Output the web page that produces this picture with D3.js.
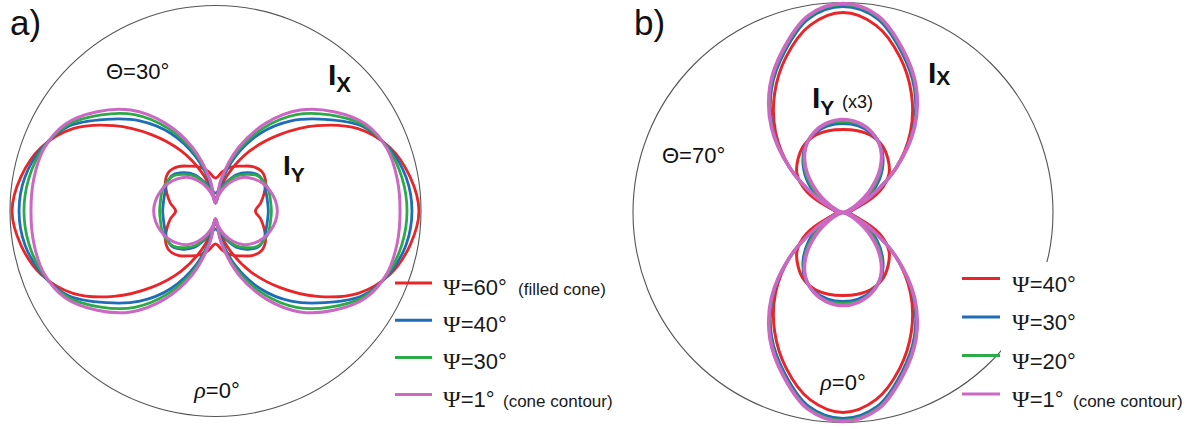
<!DOCTYPE html>
<html><head><meta charset="utf-8">
<script src="https://cdn.jsdelivr.net/npm/d3@7"></script>
<style>html,body{margin:0;padding:0;background:#fff;} svg{display:block;font-family:"Liberation Sans",Arial,sans-serif;}</style>
</head><body><svg id="chart" width="1202" height="429"></svg>
<script>
// Polar angle samples (degrees from the horizontal axis), first quadrant; curves are mirror-symmetric
const angles = [0, 10, 20, 30, 40, 50, 60, 70, 80, 90];

// Panel a) Θ=30°, radius normalised to the outer circle
const labelsA = ["Ψ=60°", "Ψ=40°", "Ψ=30°", "Ψ=1°"];
const notesA  = ["(filled cone)", "", "", "(cone contour)"];
const ixA_psi60 = [0.990, 0.961, 0.903, 0.801, 0.646, 0.485, 0.340, 0.204, 0.097, 0.039];
const ixA_psi40 = [0.956, 0.942, 0.898, 0.825, 0.694, 0.573, 0.437, 0.282, 0.131, 0.039];
const ixA_psi30 = [0.932, 0.922, 0.893, 0.835, 0.728, 0.612, 0.466, 0.306, 0.146, 0.039];
const ixA_psi1  = [0.898, 0.898, 0.888, 0.845, 0.752, 0.641, 0.495, 0.330, 0.155, 0.039];
const iyA_psi60 = [0.194, 0.223, 0.252, 0.282, 0.296, 0.282, 0.252, 0.228, 0.194, 0.160];
const iyA_psi40 = [0.257, 0.257, 0.262, 0.272, 0.272, 0.243, 0.204, 0.146, 0.107, 0.087];
const iyA_psi30 = [0.272, 0.272, 0.277, 0.277, 0.267, 0.233, 0.194, 0.136, 0.087, 0.063];
const iyA_psi1  = [0.301, 0.296, 0.284, 0.267, 0.243, 0.214, 0.170, 0.121, 0.073, 0.039];

// Panel b) Θ=70°, I_Y shown x3
const labelsB = ["Ψ=40°", "Ψ=30°", "Ψ=20°", "Ψ=1°"];
const notesB  = ["", "", "", "(cone contour)"];
const ixB_psi40 = [0.030, 0.040, 0.070, 0.160, 0.330, 0.500, 0.652, 0.790, 0.905, 0.952];
const ixB_psi30 = [0.020, 0.030, 0.055, 0.150, 0.330, 0.520, 0.681, 0.814, 0.938, 0.981];
const ixB_psi20 = [0.020, 0.030, 0.050, 0.150, 0.330, 0.525, 0.690, 0.824, 0.948, 0.990];
const ixB_psi1  = [0.020, 0.030, 0.050, 0.150, 0.330, 0.530, 0.695, 0.829, 0.952, 0.995];
const iyB_psi40 = [0.000, 0.014, 0.076, 0.200, 0.286, 0.333, 0.371, 0.390, 0.395, 0.395];
const iyB_psi30 = [0.000, 0.010, 0.048, 0.124, 0.214, 0.295, 0.362, 0.400, 0.419, 0.424];
const iyB_psi20 = [0.000, 0.005, 0.033, 0.100, 0.195, 0.286, 0.357, 0.405, 0.429, 0.433];
const iyB_psi1  = [0.000, 0.005, 0.024, 0.076, 0.171, 0.276, 0.357, 0.405, 0.433, 0.443];

const colors = ["#e8262a", "#1f6cb8", "#2daa48", "#cc68c4"];

const svg = d3.select("#chart");

// Build a full closed curve from the first-quadrant samples using the plot's mirror symmetry
function fullCurve(q) {
  const pts = [];
  const step = angles[1] - angles[0];
  for (let phi = 0; phi < 360; phi += step) {
    let a;
    if (phi <= 90) a = phi; else if (phi <= 180) a = 180 - phi;
    else if (phi <= 270) a = phi - 180; else a = 360 - phi;
    pts.push({ phi: phi, r: q[angles.indexOf(a)] });
  }
  return pts;
}

function panel(cfg) {
  const g = svg.append("g").attr("transform", `translate(${cfg.cx},${cfg.cy})`);
  const rs = d3.scaleLinear().domain([0, 1]).range([0, cfg.R]);
  g.append("circle").attr("r", rs(1)).attr("fill", "none").attr("stroke", "#555").attr("stroke-width", 1.1);
  const line = d3.lineRadial()
    .angle(d => (90 - d.phi) * Math.PI / 180)
    .radius(d => rs(d.r))
    .curve(d3.curveCatmullRomClosed.alpha(0.5));
  cfg.series.forEach((s, i) => {
    [s.ix, s.iy].forEach(arr => {
      g.append("path").attr("d", line(fullCurve(arr)))
        .attr("fill", "none").attr("stroke", colors[i])
        .attr("stroke-width", cfg.sw[i]).attr("stroke-linejoin", "round");
    });
  });
}

panel({ cx: 215.5, cy: 211, R: 205.5, sw: [2.8, 2.8, 2.8, 3],
  series: [
    { ix: ixA_psi60, iy: iyA_psi60 }, { ix: ixA_psi40, iy: iyA_psi40 },
    { ix: ixA_psi30, iy: iyA_psi30 }, { ix: ixA_psi1, iy: iyA_psi1 } ] });

panel({ cx: 843, cy: 212.5, R: 210, sw: [3, 3, 3, 3.6],
  series: [
    { ix: ixB_psi40, iy: iyB_psi40 }, { ix: ixB_psi30, iy: iyB_psi30 },
    { ix: ixB_psi20, iy: iyB_psi20 }, { ix: ixB_psi1, iy: iyB_psi1 } ] });

// white legend backdrop in panel b hides part of the circle
svg.append("rect").attr("x", 1001).attr("y", 262).attr("width", 201).attr("height", 167).attr("fill", "#fff");

function legend(labels, notes, x0, x1, y0, dy, tx, noteX, off) {
  labels.forEach((lab, i) => {
    const y = y0 + i * dy;
    svg.append("line").attr("x1", x0).attr("x2", x1).attr("y1", y).attr("y2", y)
      .attr("stroke", colors[i]).attr("stroke-width", 3);
    const t = svg.append("text").attr("x", tx).attr("y", y + off).attr("font-size", 22).attr("fill", "#1a1a1a");
    t.append("tspan").attr("font-family", "'Liberation Serif', serif").attr("font-size", 24).text(lab.slice(0, 1));
    t.append("tspan").text(lab.slice(1));
    if (notes[i]) {
      svg.append("text").attr("x", noteX[i]).attr("y", y + off).attr("font-size", 17).attr("fill", "#1a1a1a").text(notes[i]);
    }
  });
}
legend(labelsA, notesA, 395, 432, 283, 37.2, 443, [518, 0, 0, 503], 12);
legend(labelsB, notesB, 962, 1000, 278.5, 38.5, 1012, [0, 0, 0, 1073], 13);

// Text labels
function txt(x, y, s, size, opts) {
  const t = svg.append("text").attr("x", x).attr("y", y).attr("font-size", size).attr("fill", "#111").text(s);
  if (opts) Object.entries(opts).forEach(([k, v]) => t.attr(k, v));
  return t;
}
txt(10, 35, "a)", 35);
txt(634, 35, "b)", 35);
txt(106, 79, "Θ=30°", 22);
txt(662, 163, "Θ=70°", 22);

function rho(x, y) {
  const t = svg.append("text").attr("x", x).attr("y", y).attr("font-size", 22).attr("fill", "#111").attr("text-anchor", "middle");
  t.append("tspan").attr("font-style", "italic").attr("font-family", "'Liberation Serif', serif").attr("font-size", 24).text("ρ");
  t.append("tspan").text("=0°");
}
rho(217, 398);
rho(843, 390);

function iLabel(x, y, sub, subDy, big, small) {
  const t = svg.append("text").attr("x", x).attr("y", y).attr("fill", "#111");
  t.append("tspan").attr("font-size", big).attr("font-weight", "bold").text("I");
  t.append("tspan").attr("font-size", small).attr("font-weight", "bold").attr("dy", subDy).text(sub);
  return t;
}
iLabel(328, 85, "X", 7, 30, 22);
iLabel(283, 175, "Y", 7, 28, 21);
iLabel(928, 83, "X", 2, 30, 21);
const iy = iLabel(812, 108, "Y", 7, 30, 21);
txt(842, 108, "(x3)", 18);
</script></body></html>
